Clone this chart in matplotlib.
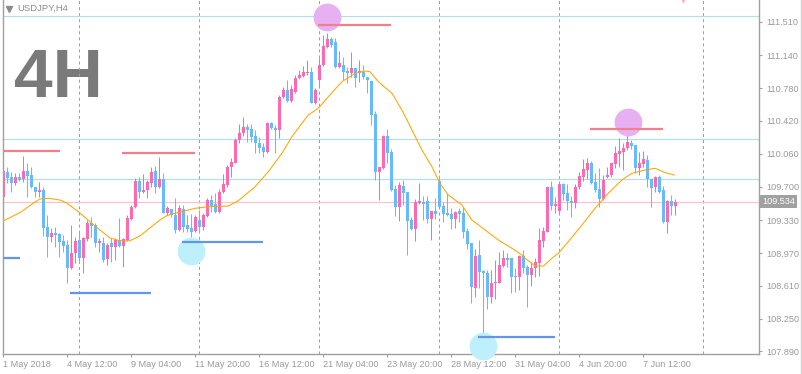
import matplotlib
matplotlib.use("Agg")
import matplotlib.pyplot as plt
import matplotlib.transforms as mtransforms
from matplotlib.lines import Line2D
import numpy as np

plt.rcParams['font.family'] = ['Liberation Sans', 'DejaVu Sans']

# ---------------- data (USDJPY, H4) ----------------
opens = [109.589, 109.859, 109.808, 109.735, 109.808, 109.779, 109.874, 109.827, 109.698, 109.643,
         109.662, 109.252, 109.142, 109.186, 109.179, 109.102, 109.058, 108.802, 108.966, 109.113,
         108.912, 109.120, 109.303, 109.278, 109.076, 109.076, 108.901, 109.076, 109.040, 109.113,
         109.047, 109.113, 109.343, 109.471, 109.761, 109.643, 109.662, 109.735, 109.874, 109.691,
         109.779, 109.413, 109.450, 109.387, 109.223, 109.450, 109.278, 109.241, 109.216, 109.333,
         109.260, 109.377, 109.552, 109.508, 109.424, 109.644, 109.717, 109.911, 109.962, 110.211,
         110.284, 110.350, 110.328, 110.255, 110.175, 110.131, 110.083, 110.394, 110.347, 110.321,
         110.680, 110.760, 110.643, 110.742, 110.888, 110.914, 110.951, 110.962, 110.621, 110.869,
         111.034, 111.235, 111.316, 111.290, 111.016, 111.034, 110.972, 110.943, 110.998, 110.943,
         110.961, 110.906, 110.862, 110.497, 109.863, 109.900, 110.255, 110.083, 109.669, 109.479,
         109.706, 109.640, 109.333, 109.230, 109.516, 109.530, 109.538, 109.344, 109.428, 109.765,
         109.486, 109.413, 109.398, 109.344, 109.428, 109.406, 109.216, 109.076, 108.582, 108.948,
         108.776, 108.754, 108.483, 108.637, 108.645, 108.828, 108.912, 108.912, 108.718, 108.710,
         108.937, 108.820, 108.728, 108.801, 108.856, 109.105, 109.204, 109.691, 109.486, 109.435,
         109.727, 109.632, 109.544, 109.515, 109.691, 109.808, 109.881, 109.962, 109.749, 109.669,
         109.559, 109.800, 109.826, 109.947, 110.057, 110.082, 110.119, 110.181, 110.156, 109.899,
         109.947, 109.991, 109.779, 109.691, 109.800, 109.661, 109.314, 109.544, 109.486]
highs = [109.911, 109.918, 109.859, 109.845, 109.852, 110.035, 109.962, 109.918, 109.698, 109.753,
         109.691, 109.387, 109.241, 109.252, 109.186, 109.168, 109.113, 109.278, 109.142, 109.204,
         109.142, 109.332, 109.369, 109.296, 109.131, 109.149, 109.076, 109.131, 109.131, 109.351,
         109.131, 109.387, 109.497, 109.790, 109.808, 109.837, 109.772, 109.918, 109.925, 110.028,
         109.845, 109.486, 109.450, 109.571, 109.497, 109.497, 109.387, 109.400, 109.388, 109.443,
         109.406, 109.571, 109.607, 109.633, 109.670, 109.838, 109.937, 110.010, 110.230, 110.387,
         110.460, 110.387, 110.387, 110.321, 110.248, 110.175, 110.409, 110.413, 110.376, 110.705,
         110.797, 110.870, 110.815, 110.925, 110.980, 111.024, 111.090, 111.016, 110.779, 111.108,
         111.364, 111.382, 111.345, 111.327, 111.191, 111.126, 111.016, 111.180, 110.998, 111.089,
         111.034, 110.906, 110.862, 110.533, 109.918, 110.266, 110.328, 110.109, 109.717, 109.754,
         109.772, 109.640, 109.369, 109.560, 109.743, 109.596, 109.596, 109.428, 109.571, 109.827,
         109.534, 109.618, 109.461, 109.435, 109.461, 109.479, 109.241, 109.076, 109.011, 109.113,
         108.784, 108.784, 108.784, 108.893, 108.985, 109.003, 108.967, 108.912, 108.802, 108.948,
         109.003, 108.838, 108.875, 108.911, 109.241, 109.259, 109.698, 109.764, 109.581, 109.764,
         109.742, 109.727, 109.596, 109.727, 109.863, 109.998, 110.009, 109.983, 109.844, 109.899,
         109.826, 109.918, 109.961, 110.145, 110.229, 110.181, 110.265, 110.210, 110.156, 110.082,
         110.093, 110.046, 109.779, 109.815, 109.826, 109.705, 109.552, 109.606, 109.559]
lows = [109.515, 109.735, 109.643, 109.717, 109.764, 109.753, 109.589, 109.680, 109.589, 109.589,
        109.157, 108.922, 109.095, 109.040, 108.930, 108.985, 108.644, 108.791, 108.857, 108.875,
        108.754, 109.106, 109.149, 109.040, 108.985, 108.875, 108.838, 108.875, 108.893, 109.040,
        108.820, 109.106, 109.332, 109.460, 109.570, 109.633, 109.570, 109.691, 109.633, 109.680,
        109.406, 109.384, 109.369, 109.190, 109.212, 109.205, 109.205, 109.150, 109.205, 109.205,
        109.223, 109.369, 109.424, 109.406, 109.413, 109.633, 109.699, 109.809, 109.955, 110.175,
        110.255, 110.193, 110.193, 110.072, 110.072, 110.028, 110.072, 110.328, 110.072, 110.229,
        110.669, 110.632, 110.632, 110.724, 110.877, 110.907, 110.925, 110.614, 110.607, 110.804,
        111.023, 111.218, 111.235, 110.998, 110.998, 110.870, 110.840, 110.899, 110.796, 110.851,
        110.877, 110.723, 110.376, 109.772, 109.552, 109.889, 109.962, 109.655, 109.377, 109.325,
        109.497, 108.948, 109.223, 109.102, 109.508, 109.333, 109.296, 109.113, 109.340, 109.479,
        109.314, 109.377, 109.230, 109.241, 109.314, 109.131, 109.011, 108.418, 108.491, 108.582,
        108.088, 108.352, 108.418, 108.462, 108.645, 108.820, 108.820, 108.535, 108.546, 108.564,
        108.747, 108.380, 108.607, 108.710, 108.717, 109.032, 109.204, 109.442, 109.413, 109.413,
        109.552, 109.442, 109.369, 109.460, 109.669, 109.764, 109.779, 109.727, 109.643, 109.471,
        109.552, 109.790, 109.808, 109.899, 109.918, 109.881, 110.101, 110.108, 109.844, 109.826,
        109.918, 109.698, 109.471, 109.643, 109.632, 109.295, 109.193, 109.387, 109.387]
closes = [109.874, 109.794, 109.735, 109.801, 109.772, 109.874, 109.816, 109.691, 109.643, 109.662,
          109.248, 109.142, 109.186, 109.164, 109.095, 109.051, 108.802, 108.966, 109.102, 108.912,
          109.131, 109.303, 109.267, 109.076, 109.098, 108.893, 109.058, 109.040, 109.113, 109.047,
          109.120, 109.351, 109.471, 109.761, 109.643, 109.662, 109.753, 109.859, 109.691, 109.779,
          109.413, 109.461, 109.384, 109.223, 109.461, 109.250, 109.230, 109.205, 109.362, 109.260,
          109.388, 109.552, 109.487, 109.424, 109.644, 109.728, 109.918, 109.973, 110.211, 110.292,
          110.350, 110.321, 110.241, 110.175, 110.120, 110.083, 110.402, 110.339, 110.321, 110.680,
          110.760, 110.643, 110.768, 110.896, 110.925, 110.962, 110.962, 110.621, 110.760, 111.034,
          111.243, 111.316, 111.254, 111.016, 111.052, 110.961, 110.943, 110.998, 110.888, 110.972,
          110.906, 110.869, 110.486, 109.863, 109.918, 110.255, 110.072, 109.662, 109.479, 109.717,
          109.633, 109.322, 109.230, 109.534, 109.538, 109.508, 109.344, 109.428, 109.398, 109.479,
          109.398, 109.388, 109.344, 109.420, 109.398, 109.205, 109.069, 108.601, 108.937, 108.765,
          108.747, 108.483, 108.637, 108.656, 108.839, 108.912, 108.893, 108.710, 108.703, 108.937,
          108.802, 108.728, 108.801, 108.875, 109.112, 109.215, 109.691, 109.486, 109.508, 109.727,
          109.617, 109.544, 109.515, 109.691, 109.815, 109.888, 109.962, 109.742, 109.661, 109.559,
          109.771, 109.826, 109.954, 110.064, 110.090, 110.126, 110.192, 110.145, 109.899, 109.954,
          109.998, 109.779, 109.687, 109.800, 109.643, 109.314, 109.544, 109.486, 109.534]

# moving average readings (bar position, price)
ma_bars = [-0.1, 4.1, 7.5, 9.1, 11.2, 14.1, 15.8, 18.7, 21.6, 24.1, 26.6, 29.1, 31.6, 34.1, 36.6,
           39.1, 40.8, 42.9, 47.9, 51.2, 56.2, 58.7, 62.9, 66.2, 69.6, 72.1, 74.6, 76.2, 78.7,
           81.2, 84.6, 87.9, 90.4, 91.6, 93.7, 97.1, 99.6, 102.1, 104.6, 107.1, 109.1, 111.2,
           114.6, 117.1, 120.4, 123.7, 127.1, 129.6, 130.4, 132.9, 135.0, 137.1, 138.7, 141.2,
           144.6, 147.9, 151.2, 154.6, 157.1, 160.4, 162.9, 165.4, 167.7]
ma_vals = [109.321, 109.413, 109.519, 109.563, 109.571, 109.552, 109.519, 109.424, 109.314,
           109.223, 109.135, 109.105, 109.105, 109.157, 109.245, 109.332, 109.380, 109.406,
           109.461, 109.478, 109.486, 109.544, 109.698, 109.863, 110.065, 110.247, 110.394,
           110.485, 110.559, 110.686, 110.851, 110.943, 110.968, 110.961, 110.851, 110.724,
           110.540, 110.321, 110.101, 109.918, 109.735, 109.607, 109.497, 109.332, 109.223,
           109.113, 109.022, 108.948, 108.912, 108.827, 108.827, 108.912, 108.967, 109.094,
           109.277, 109.461, 109.626, 109.772, 109.845, 109.881, 109.900, 109.852, 109.826]

level_prices = [111.572, 110.222, 109.782]

res_start = [-1.0, 29.6, 78.6, 146.6]
res_end = [14.1, 47.9, 96.9, 164.9]
res_price = [110.090, 110.071, 111.473, 110.332]

sup_start = [-1.0, 16.6, 44.6, 118.6]
sup_end = [4.1, 36.9, 64.9, 137.9]
sup_price = [108.918, 108.534, 109.094, 108.051]

top_mark_bar = [80.9, 156.2]
top_mark_price = [111.562, 110.412]
bot_mark_bar = [46.9, 120.0]
bot_mark_price = [108.997, 107.949]

arrow_bar = [170.0]
arrow_price = [111.765]

week_sep_bars = [19, 49, 79, 109, 139, 175]

xtick_bars = [0, 16, 32, 48, 64, 80, 96, 112, 128, 144, 160]
xtick_labels = ["1 May 2018", "4 May 12:00", "9 May 04:00", "11 May 20:00", "16 May 12:00",
                "21 May 04:00", "23 May 20:00", "28 May 12:00", "31 May 04:00",
                "4 Jun 20:00", "7 Jun 12:00"]
ytick_values = [107.890, 108.250, 108.610, 108.970, 109.330, 109.700, 110.060,
                110.420, 110.780, 111.140, 111.510]

symbol_title = "USDJPY,H4"
big_label = "4H"

# ---------------- styling ----------------
BULL = "#ff69b4"
BEAR = "#66bbff"
GRID = "#a0a0a0"
TXT = "#9a9a9a"

W, H = 803, 374
fig = plt.figure(figsize=(W / 100, H / 100), dpi=100)
fig.patch.set_facecolor("white")
ax = fig.add_axes([3 / W, 20 / H, 756 / W, 354 / H])
ax.set_facecolor("white")
ax.set_xlim(-0.125, 188.875)
ax.set_ylim(107.861, 111.748)

O = np.array(opens); Hh = np.array(highs); L = np.array(lows); C = np.array(closes)
idx = np.arange(len(O))
cols = np.where(C >= O, BULL, BEAR)

# big timeframe label (behind chart objects)
ax.text(14.5 / W, 1 - 96.7 / H, big_label, transform=fig.transFigure, fontsize=50,
        fontweight="bold", color="#7a7a7a", ha="left", va="baseline", zorder=0.5)

# week separators
for b in week_sep_bars:
    ax.axvline(b, color=GRID, lw=0.75, ls=(0, (2.9, 2.9)), zorder=1)

# horizontal levels
for p in level_prices:
    ax.axhline(p, color="#b0e0e6", lw=0.8, zorder=1)
ax.axhline(C[-1], color="#ffc0cb", lw=0.8, zorder=1)

# candles
ax.vlines(idx, L, Hh, colors=cols, lw=0.75, zorder=2)
body_bottom = np.minimum(O, C)
body_h = np.maximum(np.abs(C - O), 0.008)
ax.bar(idx, body_h, width=0.75, bottom=body_bottom, color=cols, linewidth=0, zorder=2)

# moving average
ax.plot(ma_bars, ma_vals, color="#ffa500", lw=0.75, zorder=4)

# circles
ax.scatter(top_mark_bar, top_mark_price, s=400, color="#e6b0f2", linewidths=0, zorder=3, clip_on=False)
ax.scatter(bot_mark_bar, bot_mark_price, s=400, color="#bdf0fa", linewidths=0, zorder=3, clip_on=False)

# resistance / support segments
for s, e, p in zip(res_start, res_end, res_price):
    ax.plot([s, e], [p, p], color="#f0808c", lw=1.6, zorder=5, solid_capstyle="butt")
for s, e, p in zip(sup_start, sup_end, sup_price):
    ax.plot([s, e], [p, p], color="#6495ed", lw=1.6, zorder=5, solid_capstyle="butt")

ax.scatter(arrow_bar, arrow_price, marker="v", s=60, color="#ffb6c1", linewidths=0, zorder=5)

# axes / spines
for side in ("left", "right", "bottom"):
    ax.spines[side].set_color(GRID)
    ax.spines[side].set_linewidth(1.0)
ax.spines["top"].set_visible(False)

ax.yaxis.tick_right()
ax.set_yticks(ytick_values)
ax.set_yticklabels([f"{v:.3f}" for v in ytick_values])
ax.tick_params(axis="y", direction="out", length=2.5, width=0.8, color=GRID,
               labelsize=6.6, labelcolor=TXT, pad=2.5)

ax.set_xticks(xtick_bars)
ax.set_xticklabels(xtick_labels, ha="left")
ax.tick_params(axis="x", direction="out", length=2.5, width=0.8, color=GRID,
               labelsize=6.6, labelcolor=TXT, pad=1.8)
for lab in ax.get_xticklabels():
    lab.set_horizontalalignment("left")

# current price box
trans = mtransforms.blended_transform_factory(ax.transAxes, ax.transData)
ax.text(1.0045, C[-1], f"{C[-1]:.3f}", transform=trans, ha="left", va="center",
        fontsize=6.6, color="white", clip_on=False, zorder=6,
        bbox=dict(boxstyle="square,pad=0.22", fc="#a0a0a0", ec="none"))

# title
fig.add_artist(Line2D([9 / W], [1 - 8.5 / H], marker="v", markersize=4.5, color="#8c8c8c",
                      linestyle="none", transform=fig.transFigure))
fig.text(17.5 / W, 1 - 8.5 / H, symbol_title, fontsize=6.8, color="#8c8c8c",
         ha="left", va="center")

# far-right window edge
fig.add_artist(Line2D([801.5 / W, 801.5 / W], [0, 1], color="#d0d0d0", lw=1.0,
                      transform=fig.transFigure))

fig.savefig("out.png", dpi=100, facecolor="white")
